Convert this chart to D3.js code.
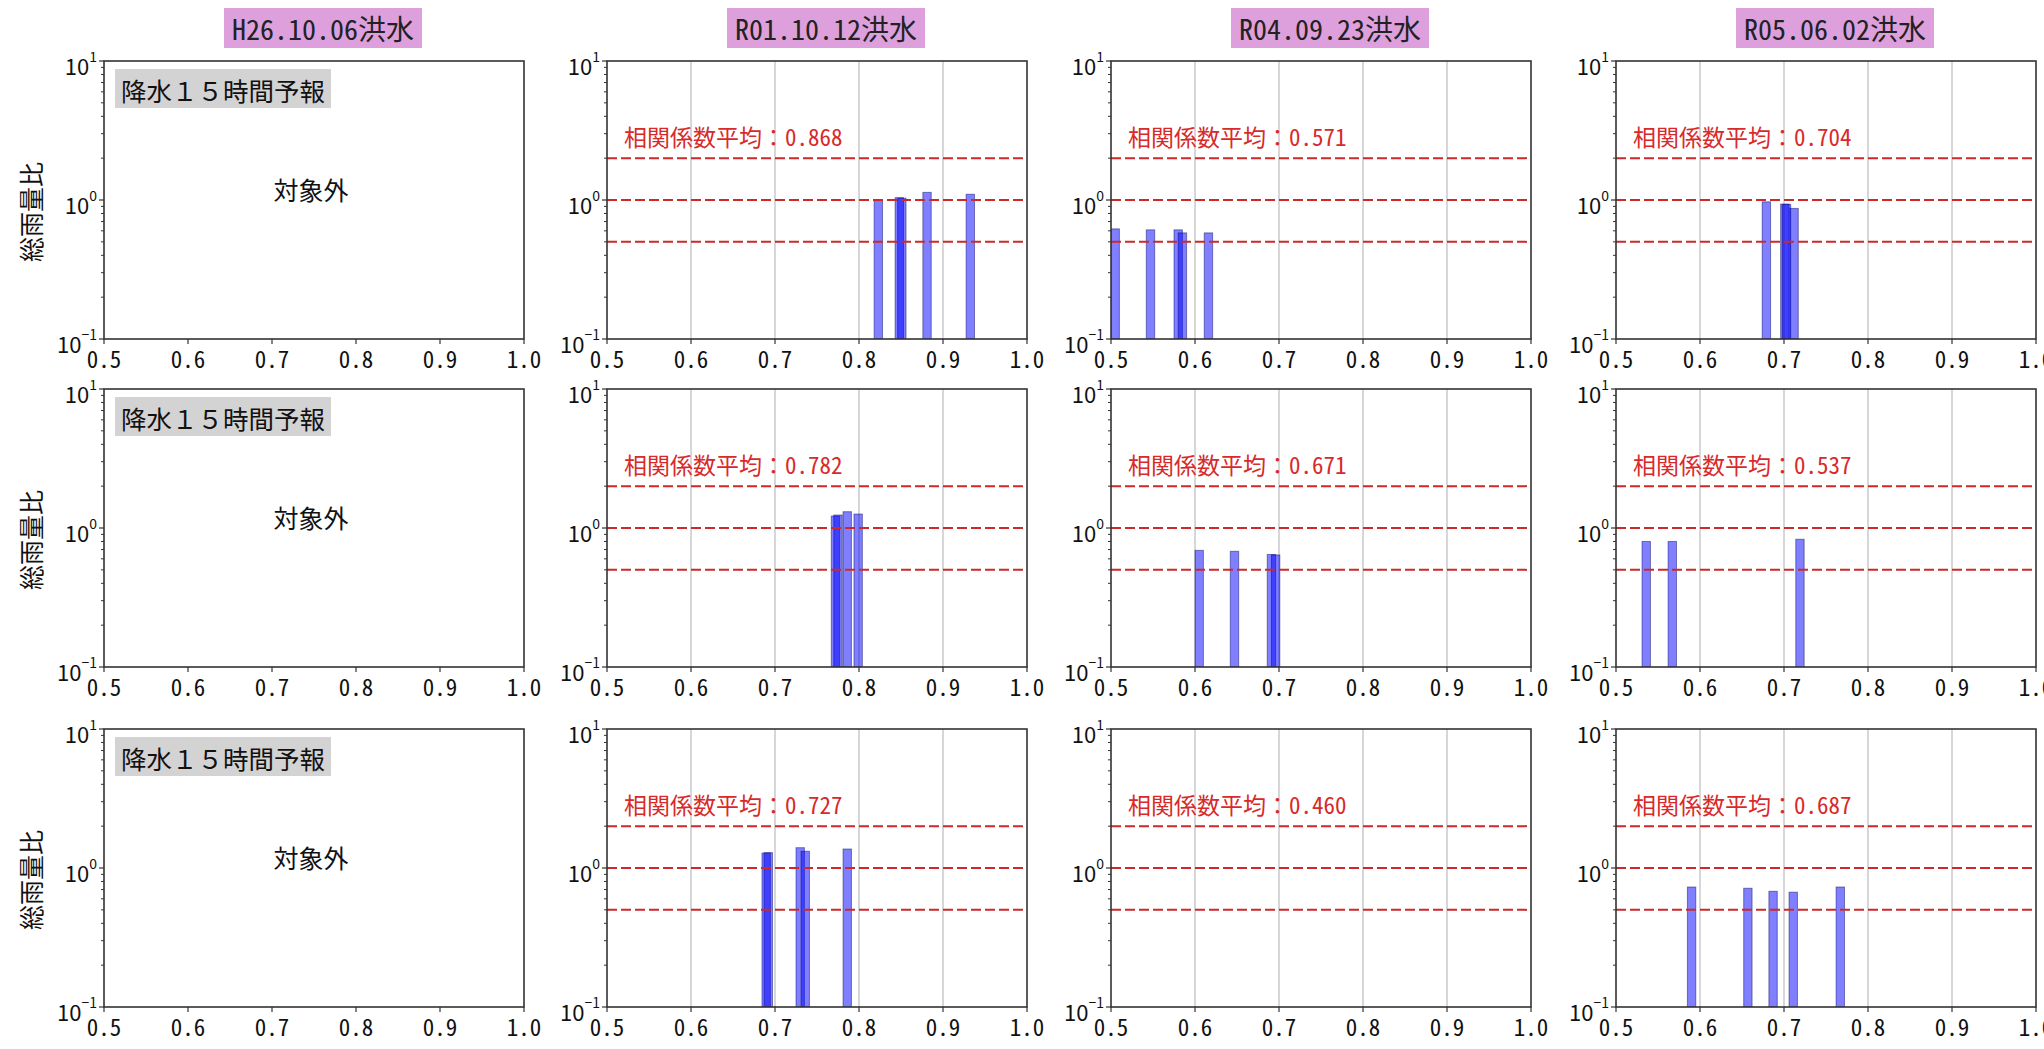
<!DOCTYPE html>
<html>
<head>
<meta charset="utf-8">
<script src="https://cdn.jsdelivr.net/npm/d3@7"></script>
<style>
  html, body { margin: 0; padding: 0; background: #fff; }
  svg text { font-family: "Noto Sans CJK JP", "Noto Sans", sans-serif; }
  .hw { font-feature-settings: "hwid"; }
</style>
</head>
<body>
<svg id="chart" width="2044" height="1049"></svg>
<script>
// ---------------- data ----------------
const floods = ["H26.10.06洪水", "R01.10.12洪水", "R04.09.23洪水", "R05.06.02洪水"];
const forecastLabel = "降水１５時間予報";
const outOfScopeLabel = "対象外";
const yAxisLabel = "総雨量比";
const meanLabelPrefix = "相関係数平均：";
const xTicks = [0.5, 0.6, 0.7, 0.8, 0.9, 1.0];
const xGrid = [0.6, 0.7, 0.8, 0.9];
const yMajorTicks = [0.1, 1, 10];
const yMajorExp = ["−1", "0", "1"];
const refLines = [0.5, 1, 2];
// correlation mean per row (rows) x flood (cols); null = out of scope
const corrMeans = [
  [null, 0.868, 0.571, 0.704],
  [null, 0.782, 0.671, 0.537],
  [null, 0.727, 0.460, 0.687]
];
// bars: [correlation coefficient, total rainfall ratio]
const bars_r0c1 = [[0.823, 0.99], [0.848, 1.04], [0.851, 1.03], [0.881, 1.135], [0.9325, 1.10]];
const bars_r0c2 = [[0.505, 0.62], [0.547, 0.61], [0.580, 0.61], [0.585, 0.58], [0.616, 0.58]];
const bars_r0c3 = [[0.679, 0.97], [0.701, 0.935], [0.703, 0.93], [0.712, 0.87]];
const bars_r1c1 = [[0.772, 1.22], [0.775, 1.24], [0.786, 1.31], [0.799, 1.26]];
const bars_r1c2 = [[0.605, 0.69], [0.647, 0.68], [0.691, 0.645], [0.696, 0.64]];
const bars_r1c3 = [[0.536, 0.80], [0.567, 0.80], [0.719, 0.83]];
const bars_r2c1 = [[0.6895, 1.28], [0.692, 1.29], [0.730, 1.40], [0.736, 1.32], [0.786, 1.37]];
const bars_r2c2 = [];
const bars_r2c3 = [[0.590, 0.73], [0.657, 0.715], [0.687, 0.68], [0.711, 0.67], [0.767, 0.73]];
const barWidth = 0.01;
const barsByPanel = [
  [null, bars_r0c1, bars_r0c2, bars_r0c3],
  [null, bars_r1c1, bars_r1c2, bars_r1c3],
  [null, bars_r2c1, bars_r2c2, bars_r2c3]
];

// ---------------- layout ----------------
const colLeft = [104, 607, 1111, 1616];
const rowTop = [61, 389, 729];
const W = 420, H = 278;

const svg = d3.select("#chart");

rowTop.forEach((top, r) => {
  colLeft.forEach((left, c) => {
    const x = d3.scaleLinear().domain([0.5, 1.0]).range([left, left + W]);
    const y = d3.scaleLog().domain([0.1, 10]).range([top + H, top]);
    const g = svg.append("g");
    const clipId = `clip-${r}-${c}`;
    svg.append("clipPath").attr("id", clipId)
      .append("rect").attr("x", left).attr("y", top).attr("width", W).attr("height", H);

    const active = corrMeans[r][c] !== null;

    // grid (only on panels with data)
    if (active) {
      g.selectAll(".grid").data(xGrid).join("line")
        .attr("x1", d => x(d)).attr("x2", d => x(d))
        .attr("y1", top).attr("y2", top + H)
        .attr("stroke", "#bdbdbd").attr("stroke-width", 1.2);
    }

    const plot = g.append("g").attr("clip-path", `url(#${clipId})`);
    const bars = barsByPanel[r][c];
    if (bars) {
      plot.selectAll(".bar").data(bars).join("rect")
        .attr("x", d => x(d[0] - barWidth / 2))
        .attr("width", d => x(d[0] + barWidth / 2) - x(d[0] - barWidth / 2))
        .attr("y", d => y(d[1]))
        .attr("height", d => y(0.1) - y(d[1]))
        .attr("fill", "#0000ff").attr("fill-opacity", 0.5)
        .attr("stroke", "#000060").attr("stroke-opacity", 0.45).attr("stroke-width", 1);
    }
    if (active) {
      plot.selectAll(".ref").data(refLines).join("line")
        .attr("x1", left).attr("x2", left + W)
        .attr("y1", d => y(d)).attr("y2", d => y(d))
        .attr("stroke", "#cc2a2a").attr("stroke-width", 2)
        .attr("stroke-dasharray", "10,4");
      const mt = g.append("text")
        .attr("x", left + 17).attr("y", top + 75)
        .attr("dominant-baseline", "central")
        .attr("font-size", 23).attr("fill", "#d82a2a");
      mt.append("tspan").text(meanLabelPrefix);
      mt.append("tspan").attr("class", "hw").text(corrMeans[r][c].toFixed(3));
    } else {
      // gray forecast label box
      const lbl = g.append("text")
        .attr("x", left + 17).attr("y", top + 28)
        .attr("dominant-baseline", "central")
        .attr("font-size", 25.5).attr("fill", "#111")
        .text(forecastLabel);
      const bb = lbl.node().getBBox();
      g.insert("rect", "text")
        .attr("x", left + 11).attr("y", top + 8)
        .attr("width", bb.width + 12).attr("height", 39)
        .attr("fill", "#d3d3d3");
      g.append("text")
        .attr("x", left + 207).attr("y", top + 128)
        .attr("text-anchor", "middle").attr("dominant-baseline", "central")
        .attr("font-size", 25).attr("fill", "#111")
        .text(outOfScopeLabel);
      // y axis label
      g.append("text")
        .attr("transform", `translate(30,${top + 151}) rotate(-90)`)
        .attr("text-anchor", "middle").attr("dominant-baseline", "central")
        .attr("font-size", 25).attr("fill", "#111")
        .text(yAxisLabel);
    }

    // frame
    g.append("rect").attr("x", left).attr("y", top).attr("width", W).attr("height", H)
      .attr("fill", "none").attr("stroke", "#333").attr("stroke-width", 1.6);

    // x ticks
    g.selectAll(".xt").data(xTicks).join("line")
      .attr("x1", d => x(d)).attr("x2", d => x(d))
      .attr("y1", top + H).attr("y2", top + H + 5)
      .attr("stroke", "#333").attr("stroke-width", 1.2);
    g.selectAll(".xl").data(xTicks).join("text")
      .attr("class", "hw")
      .attr("x", d => x(d)).attr("y", top + H + 19)
      .attr("text-anchor", "middle").attr("dominant-baseline", "central")
      .attr("font-size", 23).attr("fill", "#111")
      .text(d => d3.format(".1f")(d));

    // y ticks
    const minor = [];
    [0.1, 1].forEach(b => { for (let k = 2; k <= 9; k++) minor.push(b * k); });
    g.selectAll(".ym").data(minor).join("line")
      .attr("x1", left - 3).attr("x2", left)
      .attr("y1", d => y(d)).attr("y2", d => y(d))
      .attr("stroke", "#333").attr("stroke-width", 1);
    g.selectAll(".yM").data(yMajorTicks).join("line")
      .attr("x1", left - 5).attr("x2", left)
      .attr("y1", d => y(d)).attr("y2", d => y(d))
      .attr("stroke", "#333").attr("stroke-width", 1.2);
    const yl = g.selectAll(".yl").data(yMajorTicks).join("text")
      .attr("x", left - 7).attr("y", d => y(d) + 4)
      .attr("text-anchor", "end").attr("dominant-baseline", "central")
      .attr("font-size", 22).attr("fill", "#111")
      .attr("font-family", "Liberation Sans, Arial, sans-serif");
    yl.append("tspan").text("10");
    yl.append("tspan").attr("font-size", 14).attr("dy", -9).text((d, i) => yMajorExp[i]);

    // titles on first row
    if (r === 0) {
      const cx = left + W / 2 + 9;
      const t = g.append("text")
        .attr("class", "hw")
        .attr("x", cx).attr("y", 28)
        .attr("text-anchor", "middle").attr("dominant-baseline", "central")
        .attr("font-size", 28).attr("fill", "#222")
        .text(floods[c]);
      const bb = t.node().getBBox();
      g.insert("rect", "text")
        .attr("x", bb.x - 8).attr("y", 8)
        .attr("width", bb.width + 16).attr("height", 40)
        .attr("fill", "#dda0dd");
    }
  });
});
</script>
</body>
</html>
